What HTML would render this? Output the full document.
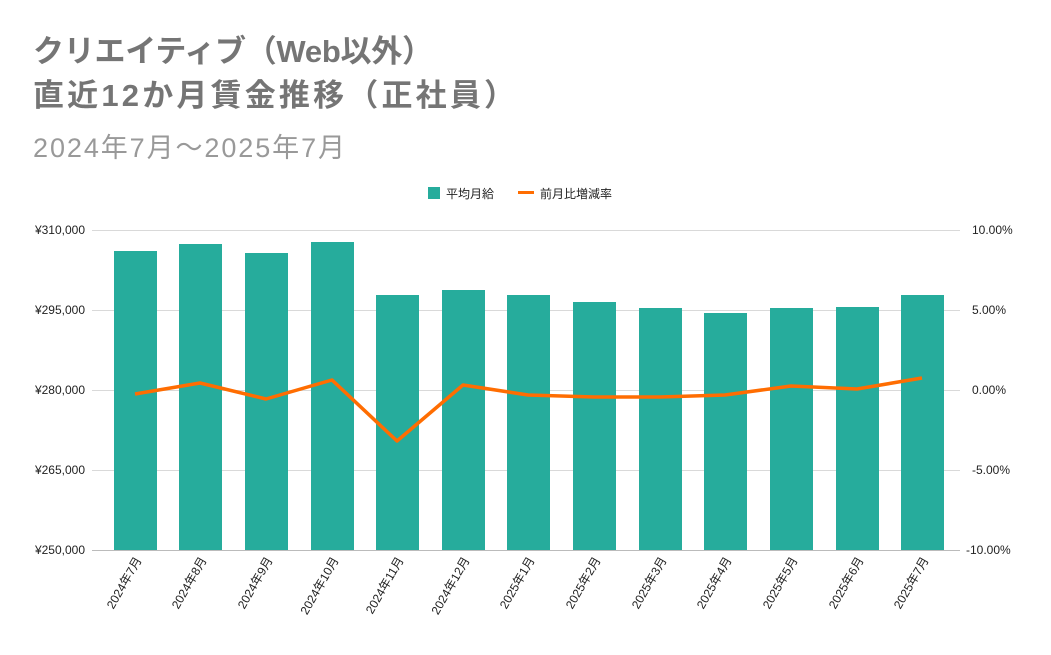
<!DOCTYPE html>
<html><head><meta charset="utf-8"><style>
body{margin:0;background:#fff;width:1051px;height:650px;overflow:hidden}
svg text{font-family:"Liberation Sans","Noto Sans CJK JP",sans-serif}
</style></head><body>
<svg width="1051" height="650" xmlns="http://www.w3.org/2000/svg">
<text x="33" y="62" font-size="31" font-weight="bold" fill="#757575" textLength="400" lengthAdjust="spacing">クリエイティブ（Web以外）</text>
<text x="33" y="106" font-size="31" font-weight="bold" fill="#757575" textLength="482" lengthAdjust="spacing">直近12か月賃金推移（正社員）</text>
<text x="33" y="157" font-size="27" fill="#999" textLength="312" lengthAdjust="spacing">2024年7月～2025年7月</text>
<rect x="428" y="187" width="12" height="12" fill="#26ac9c"/>
<text x="446" y="198" font-size="12" fill="#222">平均月給</text>
<rect x="518" y="191" width="16" height="3" fill="#ff6d01"/>
<text x="540" y="198" font-size="12" fill="#222">前月比増減率</text>
<g stroke="#d9d9d9" stroke-width="1">
<line x1="92" x2="960" y1="230.5" y2="230.5"/><line x1="92" x2="960" y1="310.5" y2="310.5"/>
<line x1="92" x2="960" y1="390.5" y2="390.5"/><line x1="92" x2="960" y1="470.5" y2="470.5"/>
</g>
<g font-size="12" fill="#222" text-anchor="end">
<text x="85" y="234">¥310,000</text><text x="85" y="314">¥295,000</text><text x="85" y="394">¥280,000</text><text x="85" y="474">¥265,000</text><text x="85" y="554">¥250,000</text>
</g>
<g font-size="12" fill="#222">
<text x="972" y="234">10.00%</text><text x="972" y="314">5.00%</text><text x="972" y="394">0.00%</text><text x="972" y="474">-5.00%</text><text x="966" y="554">-10.00%</text>
</g>
<g fill="#26ac9c">
<rect x="114" y="251" width="43" height="299"/>
<rect x="179" y="244" width="43" height="306"/>
<rect x="245" y="253" width="43" height="297"/>
<rect x="311" y="242" width="43" height="308"/>
<rect x="376" y="295" width="43" height="255"/>
<rect x="442" y="290" width="43" height="260"/>
<rect x="507" y="295" width="43" height="255"/>
<rect x="573" y="302" width="43" height="248"/>
<rect x="639" y="308" width="43" height="242"/>
<rect x="704" y="313" width="43" height="237"/>
<rect x="770" y="308" width="43" height="242"/>
<rect x="836" y="307" width="43" height="243"/>
<rect x="901" y="295" width="43" height="255"/>
</g>
<line x1="92" x2="960" y1="550.5" y2="550.5" stroke="#bbb"/>
<polyline fill="none" stroke="#ff6d01" stroke-width="3.5" stroke-linejoin="round" points="135,394 200,383 266,399 332,380 397,441 463,385 528,395 594,397 660,397 725,395 791,386 857,389 922,378"/>
<g font-size="12" fill="#222" text-anchor="end">
<text transform="translate(142,560) rotate(-60)">2024年7月</text>
<text transform="translate(207,560) rotate(-60)">2024年8月</text>
<text transform="translate(273,560) rotate(-60)">2024年9月</text>
<text transform="translate(339,560) rotate(-60)">2024年10月</text>
<text transform="translate(404,560) rotate(-60)">2024年11月</text>
<text transform="translate(470,560) rotate(-60)">2024年12月</text>
<text transform="translate(535,560) rotate(-60)">2025年1月</text>
<text transform="translate(601,560) rotate(-60)">2025年2月</text>
<text transform="translate(667,560) rotate(-60)">2025年3月</text>
<text transform="translate(732,560) rotate(-60)">2025年4月</text>
<text transform="translate(798,560) rotate(-60)">2025年5月</text>
<text transform="translate(864,560) rotate(-60)">2025年6月</text>
<text transform="translate(929,560) rotate(-60)">2025年7月</text>
</g>
</svg>
</body></html>
